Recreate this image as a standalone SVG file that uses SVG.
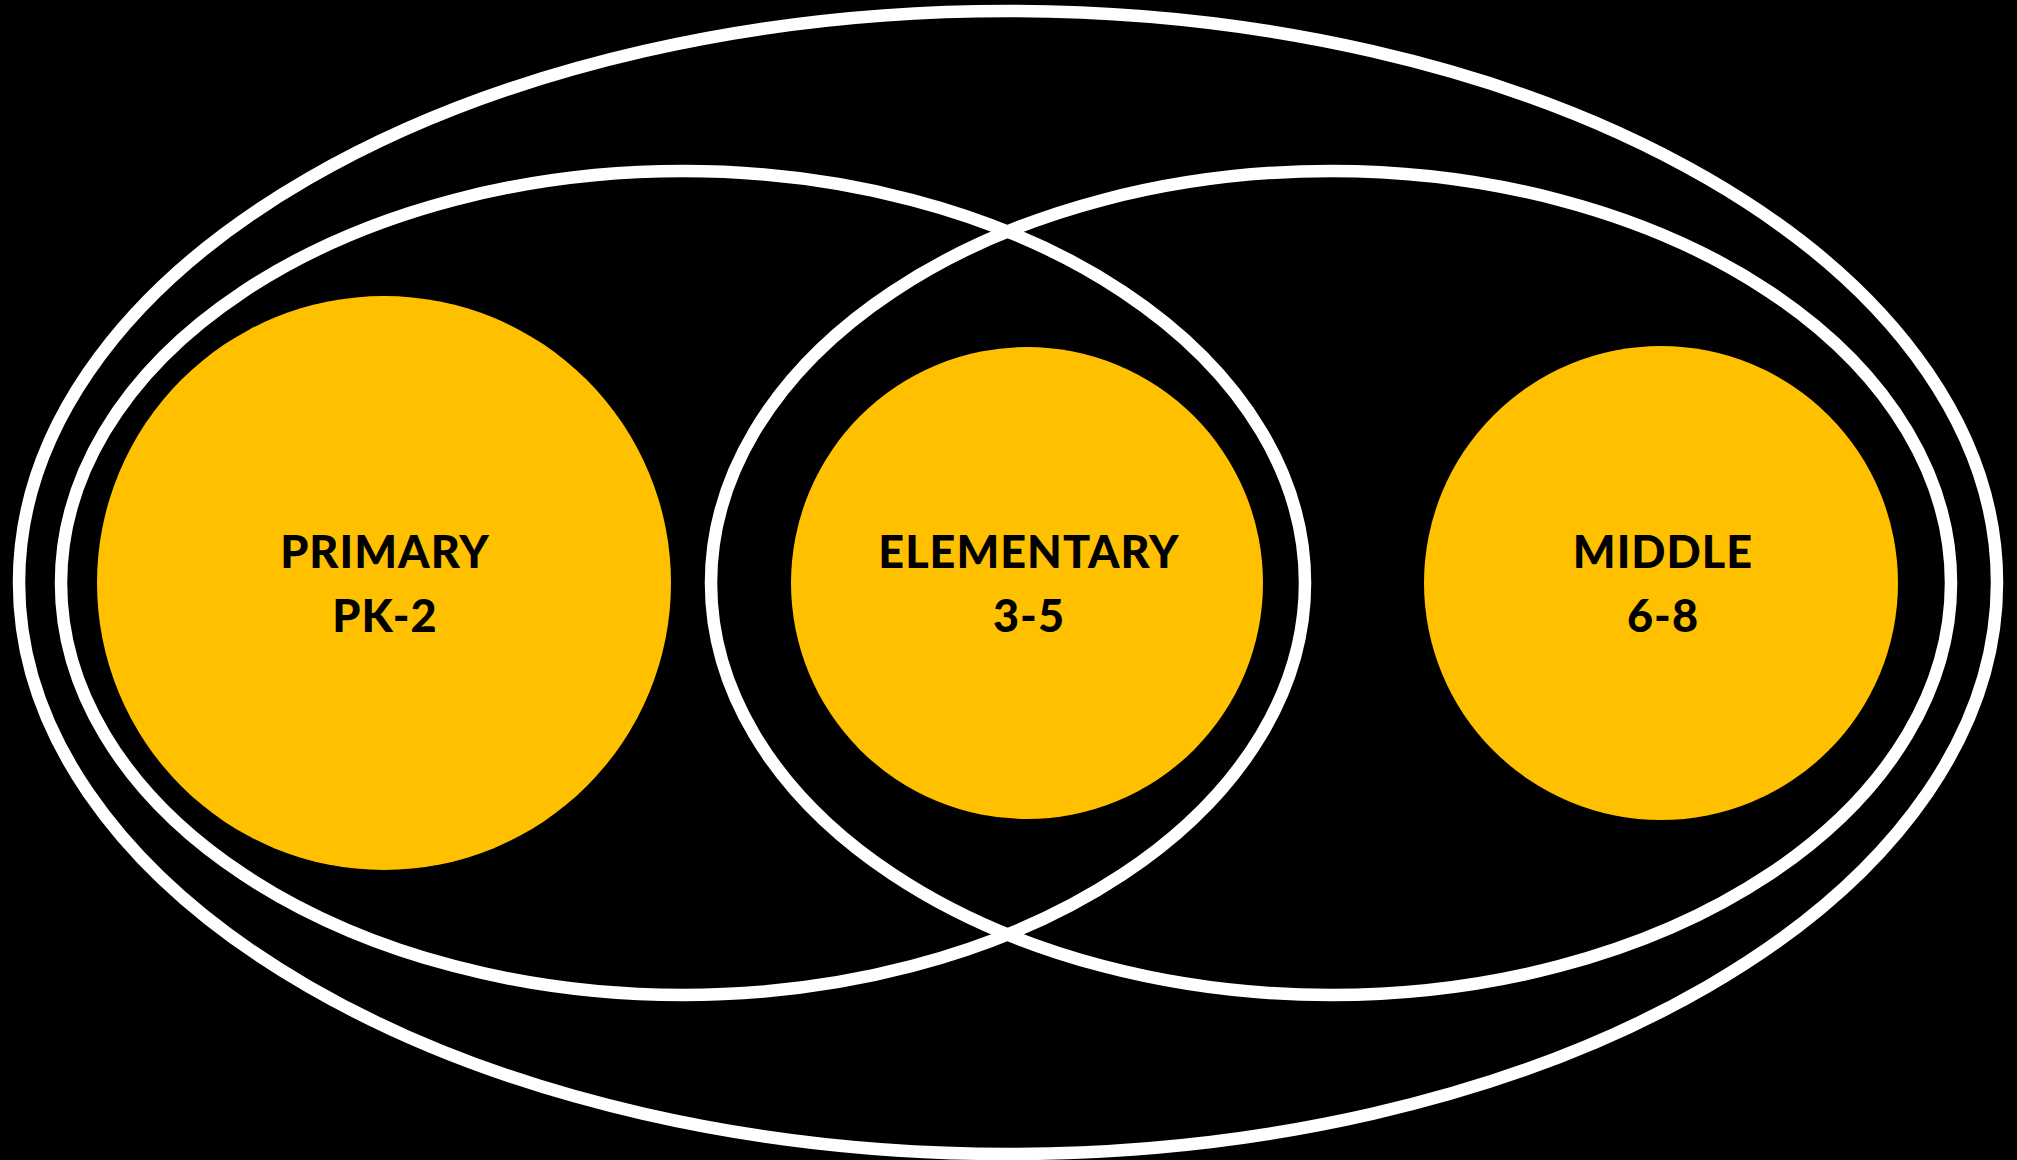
<svg xmlns="http://www.w3.org/2000/svg" width="2017" height="1160" viewBox="0 0 2017 1160">
<style>
.ring{fill:none;stroke:#FFFFFF;stroke-width:12.5}
.disc{fill:#FFC000}
.lbl{font-family:Lato,"Open Sans","Liberation Sans",sans-serif;font-weight:900;font-size:45px;letter-spacing:1px;fill:#000000;text-anchor:middle}
</style>
<rect x="0" y="0" width="2017" height="1160" fill="#000000"/>
<g id="outer"><ellipse class="ring" cx="1008" cy="582.5" rx="989" ry="571.5"/></g>
<g id="left-group"><ellipse class="ring" cx="683" cy="583" rx="622" ry="412"/></g>
<g id="right-group"><ellipse class="ring" cx="1331" cy="583" rx="620" ry="412"/></g>
<g id="primary">
<circle class="disc" cx="384" cy="583" r="287"/>
<text class="lbl" x="385" y="568">PRIMARY</text>
<text class="lbl" x="385" y="632">PK-2</text>
</g>
<g id="elementary">
<circle class="disc" cx="1027" cy="583" r="236"/>
<text class="lbl" x="1029" y="568">ELEMENTARY</text>
<text class="lbl" x="1029" y="632">3-5</text>
</g>
<g id="middle">
<circle class="disc" cx="1661" cy="583" r="237"/>
<text class="lbl" x="1663" y="568">MIDDLE</text>
<text class="lbl" x="1663" y="632">6-8</text>
</g>
<g id="connectors"></g>
</svg>
